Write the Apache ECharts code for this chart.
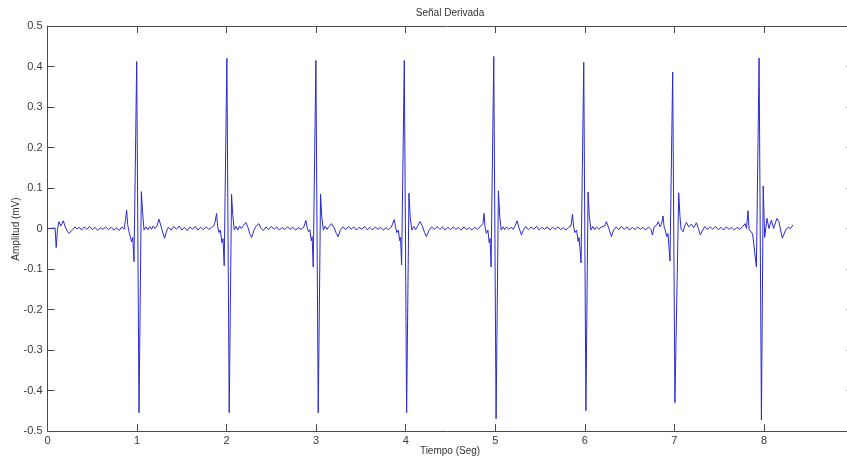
<!DOCTYPE html>
<html>
<head>
<meta charset="utf-8">
<script src="https://cdn.jsdelivr.net/npm/echarts@6/dist/echarts.min.js"></script>
<style>
html,body{margin:0;padding:0;background:#fff;overflow:hidden;}
#chart{width:847px;height:458px;}
</style>
</head>
<body>
<div id="chart"></div>
<script>
// Señal derivada: [tiempo (s), amplitud (mV)]
var tramo0 = [[0.01,0],[0.085,0.001],[0.097,-0.047],[0.112,0.0],[0.128,0.017],[0.147,0.006],[0.162,0.012],[0.176,0.019],[0.195,0.006],[0.214,-0.004],[0.24,-0.012],[0.259,-0.016],[0.285,-0.002],[0.307,0.004],[0.33,-0.001],[0.355,0.003],[0.38,-0.004],[0.41,0.004],[0.44,-0.002],[0.47,0.005],[0.5,-0.003],[0.53,0.003],[0.56,-0.005],[0.59,0.002],[0.62,-0.002],[0.65,0.004],[0.68,-0.003],[0.71,0.003],[0.74,-0.004],[0.77,0.002],[0.8,-0.005],[0.83,0.004],[0.855,-0.002]];
var latido1 = [[0.87,0.02],[0.884,0.045],[0.895,0.01],[0.91,-0.008],[0.925,-0.005],[0.94,-0.033],[0.952,-0.022],[0.966,-0.082],[0.996,0.412],[1.022,-0.455],[1.048,0.091],[1.062,0.04],[1.078,-0.004],[1.1,0.004],[1.12,-0.003],[1.14,0.005],[1.16,-0.002],[1.18,0.006],[1.2,0.0],[1.222,0.006],[1.245,0.023],[1.27,0.004],[1.29,-0.012],[1.308,-0.024],[1.33,-0.006],[1.35,0.003],[1.38,-0.004],[1.41,0.005],[1.44,-0.002],[1.47,0.006],[1.5,-0.004],[1.53,0.003],[1.56,-0.005],[1.59,0.004],[1.62,-0.002],[1.65,0.005],[1.68,-0.004],[1.71,0.003],[1.74,-0.003],[1.77,0.004],[1.8,-0.002],[1.83,0.002],[1.855,0.006]];
var latido2 = [[1.87,0.015],[1.888,0.037],[1.9,0.005],[1.915,-0.01],[1.93,-0.004],[1.948,-0.035],[1.96,-0.025],[1.973,-0.092],[2.003,0.42],[2.029,-0.455],[2.055,0.085],[2.068,0.035],[2.085,-0.003],[2.105,0.005],[2.125,-0.004],[2.145,0.006],[2.165,0.0],[2.19,0.008],[2.215,0.015],[2.24,0.002],[2.26,-0.014],[2.28,-0.022],[2.305,-0.004],[2.33,0.006],[2.36,0.012],[2.385,0.0],[2.41,-0.005],[2.44,0.004],[2.47,-0.003],[2.5,0.005],[2.53,-0.002],[2.56,0.004],[2.59,-0.004],[2.62,0.003],[2.65,-0.003],[2.68,0.004],[2.71,-0.002],[2.74,0.003],[2.77,-0.004],[2.8,0.002],[2.83,-0.002],[2.86,0.003]];
var latido3 = [[2.886,0.02],[2.9,0.002],[2.915,-0.008],[2.93,-0.003],[2.945,-0.03],[2.955,-0.02],[2.967,-0.095],[2.997,0.415],[3.023,-0.455],[3.049,0.085],[3.062,0.03],[3.08,-0.004],[3.1,0.006],[3.12,-0.002],[3.14,0.004],[3.17,0.012],[3.2,0.002],[3.225,-0.012],[3.245,-0.02],[3.27,-0.004],[3.3,0.004],[3.33,-0.003],[3.36,0.005],[3.39,-0.002],[3.42,0.004],[3.45,-0.004],[3.48,0.003],[3.51,-0.002],[3.54,0.005],[3.57,-0.003],[3.6,0.003],[3.63,-0.004],[3.66,0.004],[3.69,-0.002],[3.72,0.003],[3.75,-0.004],[3.78,0.002],[3.81,-0.003],[3.84,0.004]];
var latido4 = [[3.872,0.022],[3.888,0.002],[3.9,-0.01],[3.918,-0.004],[3.932,-0.03],[3.942,-0.022],[3.954,-0.09],[3.984,0.415],[4.01,-0.455],[4.036,0.087],[4.05,0.03],[4.068,-0.004],[4.09,0.005],[4.11,-0.003],[4.13,0.005],[4.16,0.017],[4.19,0.004],[4.21,-0.01],[4.23,-0.02],[4.26,-0.005],[4.29,0.004],[4.32,-0.003],[4.35,0.005],[4.38,-0.002],[4.41,0.004],[4.44,-0.004],[4.47,0.003],[4.5,-0.003],[4.53,0.004],[4.56,-0.002],[4.59,0.003],[4.62,-0.004],[4.65,0.004],[4.68,-0.003],[4.71,0.002],[4.74,-0.004],[4.77,0.003],[4.8,-0.002],[4.83,0.004],[4.85,0.005]];
var latido5 = [[4.862,0.012],[4.875,0.037],[4.885,0.005],[4.9,-0.012],[4.918,-0.004],[4.932,-0.035],[4.942,-0.025],[4.953,-0.095],[4.983,0.425],[5.009,-0.47],[5.035,0.093],[5.05,0.03],[5.066,-0.004],[5.085,0.004],[5.105,-0.003],[5.125,0.004],[5.15,-0.002],[5.175,0.003],[5.2,-0.002],[5.22,0.006],[5.243,0.019],[5.265,0.002],[5.292,-0.016],[5.315,-0.003],[5.34,0.005],[5.37,-0.003],[5.4,0.004],[5.43,-0.002],[5.46,0.005],[5.49,-0.004],[5.52,0.003],[5.55,-0.002],[5.58,0.004],[5.61,-0.004],[5.64,0.003],[5.67,-0.002],[5.7,0.004],[5.73,-0.003],[5.76,0.002],[5.79,-0.004],[5.82,0.003],[5.845,0.006]];
var latido6 = [[5.862,0.035],[5.875,0.004],[5.89,-0.01],[5.908,-0.004],[5.925,-0.032],[5.936,-0.022],[5.958,-0.085],[5.988,0.41],[6.012,-0.45],[6.036,0.09],[6.05,0.03],[6.068,-0.004],[6.09,0.005],[6.11,-0.003],[6.13,0.004],[6.155,-0.002],[6.18,0.003],[6.2,0.0],[6.22,0.006],[6.241,0.017],[6.265,0.002],[6.297,-0.02],[6.32,-0.004],[6.35,0.004],[6.38,-0.003],[6.41,0.005],[6.44,-0.002],[6.47,0.004],[6.5,-0.004],[6.53,0.003],[6.56,-0.003],[6.59,0.004],[6.62,-0.002],[6.65,0.003],[6.68,-0.004],[6.71,0.004],[6.74,-0.003],[6.755,-0.016],[6.775,0.004],[6.8,0.008],[6.82,0.017],[6.84,0.004]];
var latido7 = [[6.855,0.01],[6.873,0.031],[6.885,0.004],[6.9,-0.006],[6.915,-0.02],[6.928,-0.012],[6.951,-0.08],[6.981,0.386],[7.006,-0.43],[7.048,0.088],[7.062,0.03],[7.075,-0.002],[7.096,-0.008],[7.115,0.006],[7.134,0.015],[7.16,0.004],[7.19,0.011],[7.215,0.002],[7.246,0.014],[7.268,0.0],[7.29,-0.016],[7.315,-0.004],[7.34,0.005],[7.37,-0.003],[7.4,0.004],[7.43,-0.002],[7.46,0.005],[7.49,-0.003],[7.52,0.003],[7.55,-0.004],[7.58,0.004],[7.61,-0.002],[7.64,0.003],[7.67,-0.004],[7.7,0.003],[7.73,-0.002],[7.76,0.004],[7.79,0.012],[7.805,0.0]];
var latido8 = [[7.822,0.044],[7.835,-0.004],[7.86,-0.008],[7.875,-0.016],[7.89,-0.02],[7.916,-0.095],[7.946,0.421],[7.972,-0.473],[7.992,0.105],[8.008,-0.022],[8.034,0.025],[8.056,0.0],[8.083,0.021],[8.108,0.0],[8.145,0.025],[8.167,0.017],[8.205,-0.024],[8.242,-0.004],[8.268,0.003],[8.295,0.0],[8.324,0.009]];

var xTicks = {min: 0, max: 9, step: 1};
var yTicks = {min: -0.5, max: 0.5, step: 0.1};

var senal = [].concat(tramo0, latido1, latido2, latido3, latido4, latido5, latido6, latido7, latido8);

var FONT = 'Liberation Sans';
var AX = '#4a4a4a';
var chart = echarts.init(document.getElementById('chart'), null, {renderer: 'canvas', width: 847, height: 458});

function axisBase(pos, labels, isX) {
  return {
    type: 'value',
    position: pos,
    min: isX ? xTicks.min : yTicks.min,
    max: isX ? xTicks.max : yTicks.max,
    interval: isX ? xTicks.step : yTicks.step,
    axisLine: {show: true, onZero: false, lineStyle: {color: AX, width: 1}},
    axisTick: {show: true, inside: true, length: 7, lineStyle: {color: AX, width: 1}},
    axisLabel: {
      show: labels, color: '#3a3a3a', fontFamily: FONT, fontSize: 11, margin: isX ? 4 : 5,
      formatter: function (v) { var r = Math.round(v * 10) / 10; return r === 0 ? '0' : String(r); }
    },
    splitLine: {show: false}
  };
}

var xb = axisBase('bottom', true, true);
var xt = axisBase('top', false, true);
var yl = axisBase('left', true, false);
var yr = axisBase('right', false, false);

chart.setOption({
  animation: false,
  backgroundColor: '#ffffff',
  grid: {left: 47.5, top: 26, width: 806, height: 405, outerBoundsMode: 'none', containLabel: false},
  xAxis: [xb, xt],
  yAxis: [yl, yr],
  graphic: [
    {type: 'text', x: 450, y: 13, style: {x: 0, y: 0, text: 'Señal Derivada', fill: '#333', font: '10px "Liberation Sans"', textAlign: 'center', textVerticalAlign: 'middle'}, z: 10},
    {type: 'text', x: 450, y: 451, style: {x: 0, y: 0, text: 'Tiempo (Seg)', fill: '#333', font: '10px "Liberation Sans"', textAlign: 'center', textVerticalAlign: 'middle'}, z: 10},
    {type: 'text', rotation: Math.PI / 2, x: 16, y: 229, style: {x: 0, y: 0, text: 'Amplitud (mV)', fill: '#333', font: '10px "Liberation Sans"', textAlign: 'center', textVerticalAlign: 'middle'}, z: 10}
  ],
  series: [{
    type: 'line',
    data: senal,
    xAxisIndex: 0, yAxisIndex: 0,
    showSymbol: false,
    symbol: 'none',
    sampling: null,
    lineStyle: {color: '#2a2ad2', width: 1},
    itemStyle: {color: '#2a2ad2'}
  }]
});
</script>
</body>
</html>
